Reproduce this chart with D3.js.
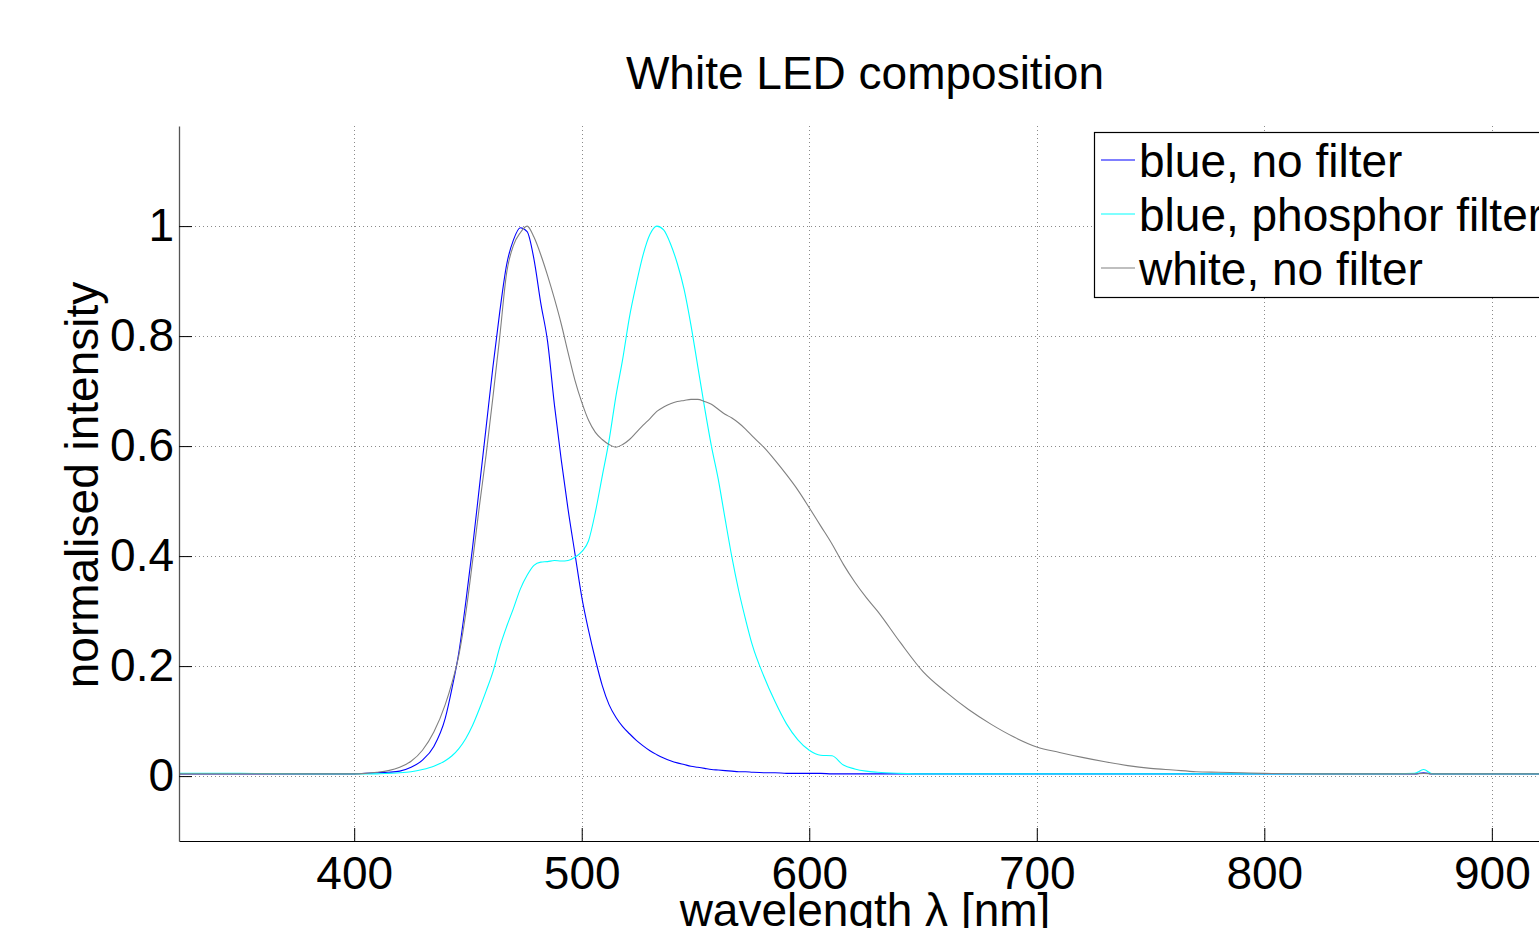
<!DOCTYPE html>
<html>
<head>
<meta charset="utf-8">
<script src="https://cdn.jsdelivr.net/npm/d3@7"></script>
<style>
  body { margin: 0; background: #fff; }
  text { font-family: "Liberation Sans", Arial, Helvetica, sans-serif; fill: #000; }
</style>
</head>
<body>
<div id="chart"></div>
<script>
let width = 1539;
let height = 928;

// wavelength grid in nm
const wavelength = [
  323, 350, 380, 400, 405, 410, 415, 420, 425, 430, 435, 440,
  443, 446, 449, 452, 455, 458, 461, 464, 467, 470,
  473, 476, 479, 482, 485, 488, 491, 494, 497, 500,
  503, 506, 509, 512, 515, 518, 521, 524, 527, 530,
  533, 536, 539, 542, 545, 548, 551, 554, 557, 560,
  563, 566, 569, 572, 575, 580, 585, 590, 595, 600,
  605, 610, 615, 620, 625, 630, 640, 650, 660, 670,
  680, 690, 700, 710, 720, 730, 740, 750, 760, 770,
  780, 790, 800, 825, 850, 866, 870, 874, 900, 926
];

const blueNoFilter = [
  0.004, 0.004, 0.004, 0.004, 0.005, 0.006, 0.007, 0.009, 0.016, 0.029, 0.054, 0.105,
  0.16, 0.225, 0.315, 0.415, 0.525, 0.635, 0.745, 0.845, 0.93, 0.975,
  0.997, 0.99, 0.94, 0.86, 0.79, 0.675, 0.575, 0.485, 0.405, 0.326,
  0.265, 0.212, 0.165, 0.13, 0.107, 0.09, 0.077, 0.065, 0.055, 0.046,
  0.039, 0.033, 0.028, 0.024, 0.021, 0.018, 0.016, 0.014, 0.012, 0.011,
  0.010, 0.009, 0.008, 0.008, 0.007, 0.006, 0.006, 0.005, 0.005, 0.005,
  0.005, 0.004, 0.004, 0.004, 0.004, 0.004, 0.004, 0.004, 0.004, 0.004,
  0.004, 0.004, 0.004, 0.004, 0.004, 0.004, 0.004, 0.004, 0.004, 0.004,
  0.004, 0.004, 0.004, 0.004, 0.004, 0.004, 0.006, 0.004, 0.004, 0.004
];

const bluePhosphor = [
  0.005, 0.005, 0.004, 0.004, 0.004, 0.004, 0.005, 0.006, 0.008, 0.012, 0.018, 0.028,
  0.037, 0.05, 0.068, 0.092, 0.122, 0.155, 0.19, 0.235, 0.272, 0.305,
  0.34, 0.365, 0.383, 0.389, 0.39, 0.392, 0.391, 0.392, 0.398, 0.408,
  0.428, 0.48, 0.545, 0.61, 0.69, 0.758, 0.835, 0.895, 0.948, 0.985,
  1.0, 0.993, 0.968, 0.932, 0.885, 0.82, 0.745, 0.67, 0.60, 0.54,
  0.468, 0.398, 0.337, 0.285, 0.238, 0.182, 0.135, 0.095, 0.066, 0.047,
  0.038, 0.037, 0.02, 0.013, 0.009, 0.007, 0.005, 0.004, 0.004, 0.004,
  0.004, 0.004, 0.004, 0.004, 0.004, 0.004, 0.004, 0.004, 0.004, 0.004,
  0.004, 0.004, 0.004, 0.004, 0.004, 0.005, 0.012, 0.004, 0.004, 0.004
];

const whiteNoFilter = [
  0.004, 0.004, 0.004, 0.004, 0.005, 0.007, 0.010, 0.016, 0.027, 0.047, 0.08, 0.13,
  0.17, 0.22, 0.295, 0.39, 0.49, 0.585, 0.69, 0.80, 0.915, 0.965,
  0.988, 1.0, 0.98, 0.948, 0.91, 0.868, 0.822, 0.77, 0.72, 0.68,
  0.647, 0.625, 0.612, 0.603, 0.598, 0.603, 0.612, 0.625, 0.638, 0.65,
  0.663, 0.671, 0.677, 0.681, 0.683, 0.685, 0.685, 0.681, 0.676, 0.667,
  0.658, 0.651, 0.642, 0.631, 0.618, 0.598, 0.574, 0.548, 0.52, 0.488,
  0.455, 0.422, 0.385, 0.353, 0.325, 0.30, 0.243, 0.19, 0.153, 0.121,
  0.094, 0.071, 0.053, 0.043, 0.034, 0.026, 0.019, 0.014, 0.011, 0.008,
  0.007, 0.006, 0.005, 0.004, 0.004, 0.004, 0.005, 0.004, 0.004, 0.004
];

const seriesNames = ["blue, no filter", "blue, phosphor filter", "white, no filter"];
const seriesColors = ["#0000ff", "#00ffff", "#808080"];
const xTicks = [400, 500, 600, 700, 800, 900];
const yTicks = [0, 0.2, 0.4, 0.6, 0.8, 1];

const plotLeft = 179, plotRight = 1551, plotTop = 126, plotBottom = 841;
const fontSize = 46;

let xScale = d3.scaleLinear().domain([323, 926]).range([plotLeft, plotRight]);
let yScale = d3.scaleLinear().domain([-0.118, 1.182]).range([plotBottom, plotTop]);

let svg = d3.select("#chart").append("svg")
  .attr("width", width)
  .attr("height", height);

svg.append("rect").attr("width", width).attr("height", height).attr("fill", "#fff");

svg.append("defs").append("clipPath").attr("id", "plotClip")
  .append("rect")
  .attr("x", plotLeft).attr("y", plotTop)
  .attr("width", plotRight - plotLeft).attr("height", plotBottom - plotTop);

// dotted grid
let grid = svg.append("g");
grid.selectAll(".vgrid").data(xTicks).enter().append("line")
  .attr("x1", d => Math.round(xScale(d)) + 0.5).attr("x2", d => Math.round(xScale(d)) + 0.5)
  .attr("y1", plotTop).attr("y2", plotBottom)
  .attr("stroke", "#8a8a8a").attr("stroke-dasharray", "1,3");
grid.selectAll(".hgrid").data(yTicks).enter().append("line")
  .attr("x1", plotLeft).attr("x2", plotRight)
  .attr("y1", d => Math.round(yScale(d)) + 0.5).attr("y2", d => Math.round(yScale(d)) + 0.5)
  .attr("stroke", "#8a8a8a").attr("stroke-dasharray", "1,3");

// curves
let allSeries = [blueNoFilter, bluePhosphor, whiteNoFilter];
let line = d3.line()
  .x(d => xScale(d[0]))
  .y(d => yScale(d[1]))
  .curve(d3.curveMonotoneX);

let plot = svg.append("g").attr("clip-path", "url(#plotClip)");
allSeries.forEach((vals, i) => {
  plot.append("path")
    .datum(wavelength.map((w, k) => [w, vals[k]]))
    .attr("fill", "none")
    .attr("stroke", seriesColors[i])
    .attr("stroke-width", 1.1)
    .attr("d", line);
});

// axes (MATLAB style: ticks inside)
let xAxis = d3.axisBottom(xScale).tickValues(xTicks).tickSizeInner(-13).tickSizeOuter(0).tickPadding(15);
let gx = svg.append("g").attr("transform", `translate(0,${plotBottom})`).call(xAxis);
gx.select(".domain").attr("stroke", "#000");
gx.selectAll(".tick line").attr("stroke", "#000");
gx.selectAll("text").style("font-size", fontSize + "px").attr("dy", "0.71em");

let yAxis = d3.axisLeft(yScale).tickValues(yTicks).tickSizeInner(-13).tickSizeOuter(0).tickPadding(5)
  .tickFormat(d => d === 0 ? "0" : d === 1 ? "1" : d3.format(".1f")(d));
let gy = svg.append("g").attr("transform", `translate(${plotLeft},0)`).call(yAxis);
gy.select(".domain").attr("stroke", "#555").attr("stroke-width", 1.3);
gy.selectAll(".tick line").attr("stroke", "#000");
gy.selectAll("text").style("font-size", fontSize + "px");

// title and labels
svg.append("text")
  .attr("x", (plotLeft + plotRight) / 2).attr("y", 89)
  .attr("text-anchor", "middle")
  .style("font-size", fontSize + "px")
  .text("White LED composition");

svg.append("text")
  .attr("x", (plotLeft + plotRight) / 2).attr("y", 926)
  .attr("text-anchor", "middle")
  .style("font-size", fontSize + "px")
  .text("wavelength λ [nm]");

svg.append("text")
  .attr("transform", "translate(98,485) rotate(-90)")
  .attr("text-anchor", "middle")
  .style("font-size", fontSize + "px")
  .text("normalised intensity");

// legend
let legend = svg.append("g").attr("transform", "translate(1094,132)");
legend.append("rect")
  .attr("x", 0.5).attr("y", 0.5)
  .attr("width", 452).attr("height", 165)
  .attr("fill", "#fff").attr("stroke", "#000").attr("stroke-width", 1.2);
seriesNames.forEach((name, i) => {
  let yy = 28 + i * 54;
  legend.append("line")
    .attr("x1", 7).attr("x2", 41).attr("y1", yy).attr("y2", yy)
    .attr("stroke", seriesColors[i]).attr("stroke-width", 1.1);
  legend.append("text")
    .attr("x", 45).attr("y", yy + 17)
    .style("font-size", fontSize + "px")
    .text(name);
});
</script>
</body>
</html>
